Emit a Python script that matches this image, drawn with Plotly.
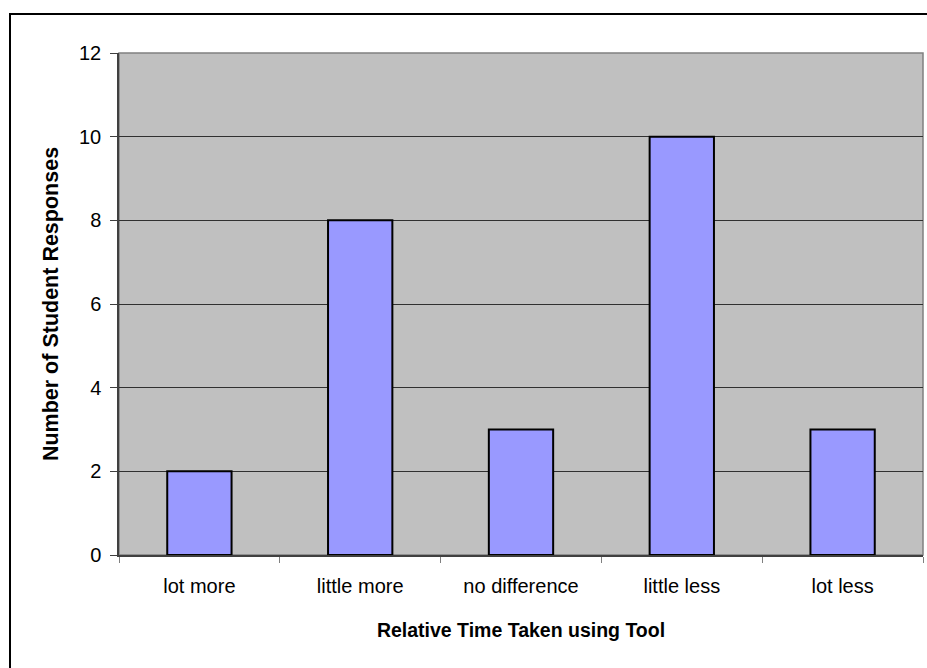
import plotly.graph_objects as go

# Survey responses: relative time taken using the tool
categories = ["lot more", "little more", "no difference", "little less", "lot less"]
responses = [2, 8, 3, 10, 3]
y_ticks = [0, 2, 4, 6, 8, 10, 12]

W, H = 927, 668
L, R, T, B = 119, 4, 53, 113
pw, ph = W - L - R, H - T - B

fig = go.Figure(
    go.Bar(
        x=categories,
        y=responses,
        width=0.4,
        marker=dict(color="#9999FF", line=dict(color="#000000", width=2)),
        hoverinfo="x+y",
    )
)

font_family = "Liberation Sans, Arial, sans-serif"

fig.update_layout(
    width=W,
    height=H,
    margin=dict(l=L, r=R, t=T, b=B, pad=0),
    paper_bgcolor="#FFFFFF",
    plot_bgcolor="#C0C0C0",
    showlegend=False,
    bargap=0.6,
    font=dict(family=font_family, color="#000000", size=20),
    xaxis=dict(
        type="category",
        showgrid=False,
        ticks="outside",
        tickson="boundaries",
        ticklen=6,
        tickwidth=1,
        tickcolor="#808080",
        showline=True,
        linecolor="#404040",
        linewidth=1.5,
        tickfont=dict(size=20),
        ticklabelstandoff=12,
        title=dict(
            text="<b>Relative Time Taken using Tool</b>",
            font=dict(size=19.5),
            standoff=28,
        ),
    ),
    yaxis=dict(
        range=[0, 12],
        tickvals=y_ticks,
        showgrid=True,
        gridcolor="#303030",
        gridwidth=1,
        zeroline=False,
        ticks="outside",
        ticklen=7,
        tickwidth=1,
        tickcolor="#404040",
        showline=True,
        linecolor="#404040",
        linewidth=1.5,
        tickfont=dict(size=20),
        ticklabelstandoff=5,
        title=dict(
            text="<b>Number of Student Responses</b>",
            font=dict(size=21.5),
            standoff=14,
        ),
    ),
    shapes=[
        # plot area frame (top and right edges)
        dict(type="rect", xref="paper", yref="paper", x0=0, y0=0, x1=1, y1=1,
             line=dict(color="#808080", width=1.5), layer="below"),
        # outer chart border
        dict(type="rect", xref="paper", yref="paper",
             x0=(10 - L) / pw, y0=-0.4, x1=1.2, y1=1 + (T - 14) / ph,
             line=dict(color="#000000", width=2)),
    ],
)

fig.write_html("out.html")
